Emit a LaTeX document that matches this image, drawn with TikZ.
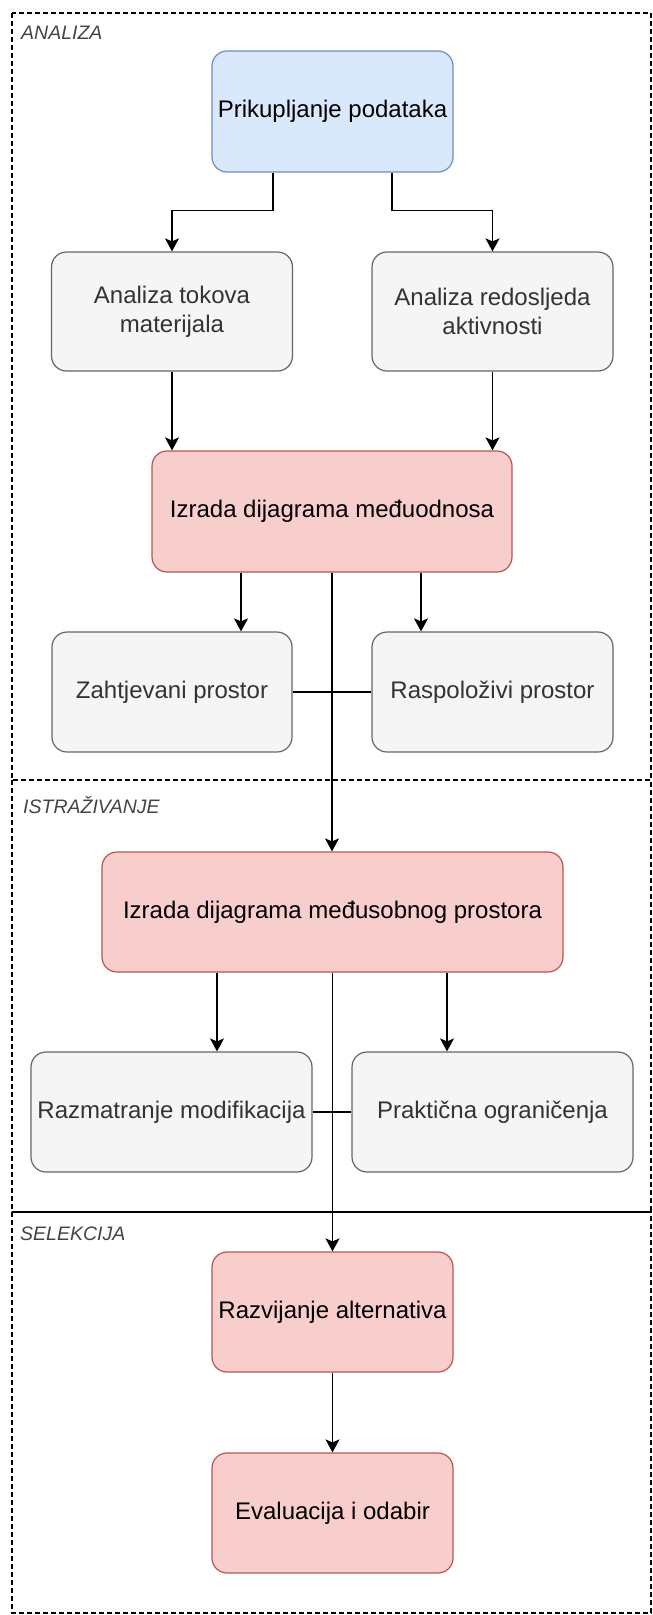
\documentclass[tikz,border=0pt]{standalone}
\usepackage{fontspec}
\setmainfont{Liberation Sans}
\usetikzlibrary{arrows.meta,calc}
\definecolor{bluefill}{HTML}{DAE8FC}
\definecolor{bluedraw}{HTML}{6C8EBF}
\definecolor{grayfill}{HTML}{F5F5F5}
\definecolor{graydraw}{HTML}{666666}
\definecolor{graytext}{HTML}{333333}
\definecolor{redfill}{HTML}{F8CECC}
\definecolor{reddraw}{HTML}{B85450}
\definecolor{labeltext}{HTML}{444444}
\tikzset{
  boxbase/.style={rectangle, rounded corners=15pt, line width=1.2pt, inner sep=0pt, align=center,
    font=\fontsize{24}{29}\selectfont},
  bluebox/.style={boxbase, fill=bluefill, draw=bluedraw, text=black},
  graybox/.style={boxbase, fill=grayfill, draw=graydraw, text=graytext},
  redbox/.style={boxbase, fill=redfill, draw=reddraw, text=black},
  lane/.style={draw=black, dash pattern=on 5pt off 3pt, line width=1.3pt},
  lanelabel/.style={anchor=west, inner sep=0pt, text=labeltext, font=\fontsize{19.5}{23}\selectfont\itshape},
  arr/.style={line width=1.6pt, -{Stealth[length=13pt, width=14pt, inset=3pt]}},
  conn/.style={line width=1.6pt},
}
\begin{document}
\begin{tikzpicture}[x=1pt, y=-1pt]
\useasboundingbox (0,0) rectangle (653,1615);
% lanes
\draw[lane] (12,13) rectangle (651,780);
\draw[lane] (12,780) rectangle (651,1212);
\draw[lane] (12,1212) rectangle (651,1613);
\node[lanelabel] (lanA) at (21,33) {ANALIZA};
\node[lanelabel] (lanI) at (23,805) {ISTRAŽIVANJE};
\node[lanelabel] (lanS) at (20,1234) {SELEKCIJA};
% nodes
\node[bluebox, minimum width=241pt, minimum height=121pt] (prik) at (332.5,111.5) {Prikupljanje podataka};
\node[graybox, minimum width=241pt, minimum height=119pt] (tok) at (172,311.5) {Analiza tokova\\materijala};
\node[graybox, minimum width=241pt, minimum height=119pt] (red) at (492.5,311.5) {Analiza redosljeda\\aktivnosti};
\node[redbox, minimum width=360pt, minimum height=121pt] (izr1) at (332,511.5) {Izrada dijagrama međuodnosa};
\node[graybox, minimum width=240pt, minimum height=120pt] (zah) at (172,692) {Zahtjevani prostor};
\node[graybox, minimum width=241pt, minimum height=120pt] (ras) at (492.5,692) {Raspoloživi prostor};
\node[redbox, minimum width=461pt, minimum height=120pt] (izr2) at (332.5,912) {Izrada dijagrama međusobnog prostora};
\node[graybox, minimum width=281pt, minimum height=120pt] (raz) at (171.5,1112) {Razmatranje modifikacija};
\node[graybox, minimum width=281pt, minimum height=120pt] (pra) at (492.5,1112) {Praktična ograničenja};
\node[redbox, minimum width=241pt, minimum height=120pt] (alt) at (332.5,1312) {Razvijanje alternativa};
\node[redbox, minimum width=241pt, minimum height=120pt] (eva) at (332.5,1513) {Evaluacija i odabir};
% connectors
\draw[arr] ([xshift=-59.5pt]prik.south) -- ++(0,38) -| (tok.north);
\draw[arr] ([xshift=59.5pt]prik.south) -- ++(0,38) -| (red.north);
\draw[arr] (tok.south) -- (tok.south |- izr1.north);
\draw[arr] (red.south) -- (red.south |- izr1.north);
\draw[arr] ([xshift=-91pt]izr1.south) -- ([xshift=-91pt]izr1.south |- zah.north);
\draw[arr] ([xshift=89pt]izr1.south) -- ([xshift=89pt]izr1.south |- ras.north);
\draw[conn] (zah.east) -- (ras.west);
\draw[arr] (izr1.south) -- (izr1.south |- izr2.north);
\draw[arr] ([xshift=-115.5pt]izr2.south) -- ([xshift=-115.5pt]izr2.south |- raz.north);
\draw[arr] ([xshift=114.5pt]izr2.south) -- ([xshift=114.5pt]izr2.south |- pra.north);
\draw[conn] (raz.east) -- (pra.west);
\draw[arr] (izr2.south) -- (izr2.south |- alt.north);
\draw[arr] (alt.south) -- (eva.north);
\end{tikzpicture}
\end{document}
